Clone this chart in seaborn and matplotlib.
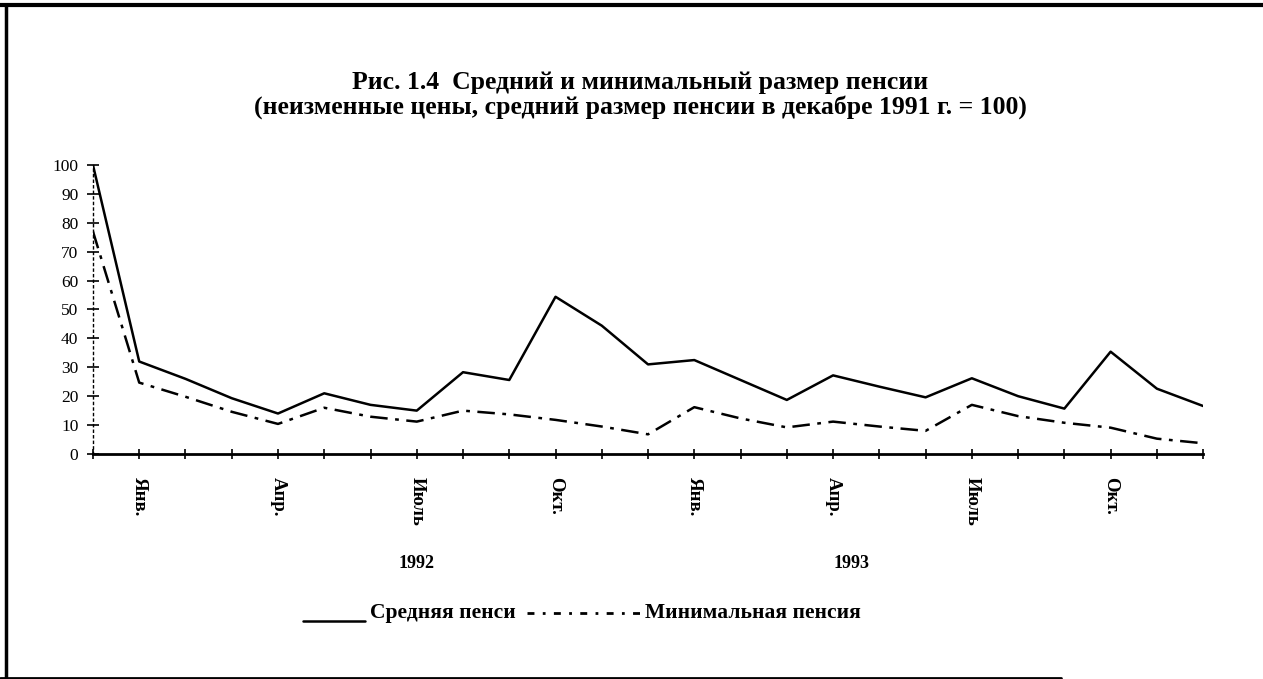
import numpy as np
import pandas as pd
import seaborn as sns
import matplotlib.pyplot as plt
from matplotlib.lines import Line2D

# monthly index: Dec 1991 ... Dec 1993 (Dec 1991 average pension = 100)
months = ["Дек.", "Янв.", "Фев.", "Март", "Апр.", "Май", "Июнь", "Июль", "Авг.", "Сент.", "Окт.", "Нояб.",
          "Дек.", "Янв.", "Фев.", "Март", "Апр.", "Май", "Июнь", "Июль", "Авг.", "Сент.", "Окт.", "Нояб.", "Дек."]
avg_pension = [100, 32, 26, 19.3, 14, 21, 17, 15, 28.3, 25.6, 54.4, 44.4,
               31, 32.5, 25.6, 18.7, 27.2, 23.3, 19.6, 26.2, 20, 15.7, 35.4, 22.6, 16.6]
min_pension = [77, 24.7, 19.8, 14.6, 10.4, 16, 12.9, 11.2, 15, 13.7, 11.8, 9.5,
               6.8, 16.2, 12.3, 9.2, 11.2, 9.5, 8, 17, 13.1, 10.8, 9.1, 5.3, 3.7]
shown_months = {1: "Янв.", 4: "Апр.", 7: "Июль", 10: "Окт.", 13: "Янв.", 16: "Апр.", 19: "Июль", 22: "Окт."}
years = ["1992", "1993"]
year_pos = [7, 16.4]
series_names = ["Средняя пенси", "Минимальная пенсия"]

df = pd.DataFrame({"t": np.arange(len(months)), "avg": avg_pension, "min": min_pension})

sns.set_theme(style="white")
plt.rcParams['font.family'] = ['Liberation Serif', 'DejaVu Serif']
plt.rcParams['text.color'] = 'black'

fig = plt.figure(figsize=(12.63, 6.79), dpi=100)
ax = fig.add_axes([0.0736, 0.3314, 0.879, 0.4256])

sns.lineplot(data=df, x="t", y="avg", color="black", lw=1.8, ax=ax)
sns.lineplot(data=df, x="t", y="min", color="black", lw=1.8, linestyle=(0, (7, 3, 1.5, 3)), ax=ax)

ax.set_xlim(0, len(months) - 1)
ax.set_ylim(0, 100)
ax.set_xlabel("")
ax.set_ylabel("")
ax.set_yticks(range(0, 101, 10))
ax.set_xticks(df["t"])
ax.set_xticklabels([shown_months.get(i, "") for i in df["t"]], rotation=-90,
                   fontsize=13.5, fontweight="bold", va="top")
ax.tick_params(axis="x", bottom=True, direction="inout", length=7, width=1.2, pad=13, colors="black")
ax.tick_params(axis="y", left=True, direction="inout", length=9, width=1.2, pad=6, labelsize=12.5, colors="black")
for s in ["top", "right"]:
    ax.spines[s].set_visible(False)
ax.spines["bottom"].set_linewidth(2)
ax.spines["bottom"].set_color("black")
ax.spines["left"].set_linewidth(1)
ax.spines["left"].set_color("black")
ax.spines["left"].set_linestyle((0, (1.5, 2.5)))

for y, p in zip(years, year_pos):
    ax.text(p, -38, y, ha="center", va="center", fontsize=13, fontweight="bold")

fig.text(0.507, 0.879, "Рис. 1.4  Средний и минимальный размер пенсии",
         ha="center", va="center", fontsize=18.5, fontweight="bold")
fig.text(0.507, 0.843, "(неизменные цены, средний размер пенсии в декабре 1991 г. = 100)",
         ha="center", va="center", fontsize=18.5, fontweight="bold")

# legend, laid out as in the printed figure
ly = 0.097
fig.add_artist(Line2D([303 / 1263, 365 / 1263], [ly - 0.012, ly - 0.012], transform=fig.transFigure,
                      color="black", lw=1.8))
fig.text(370 / 1263, ly, series_names[0], ha="left", va="center", fontsize=15.5, fontweight="bold")
fig.add_artist(Line2D([527 / 1263, 640 / 1263], [ly, ly], transform=fig.transFigure,
                      color="black", lw=2, linestyle=(0, (2.5, 3, 1, 3))))
fig.text(645 / 1263, ly, series_names[1], ha="left", va="center", fontsize=15.5, fontweight="bold")

# page frame
fig.add_artist(Line2D([0, 1], [0.993, 0.993], transform=fig.transFigure, color="black", lw=3))
fig.add_artist(Line2D([0.005, 0.005], [0, 0.993], transform=fig.transFigure, color="black", lw=2.5))
fig.add_artist(Line2D([0, 0.84], [0.002, 0.002], transform=fig.transFigure, color="black", lw=2))

fig.savefig("out.png", dpi=100, facecolor="white")
